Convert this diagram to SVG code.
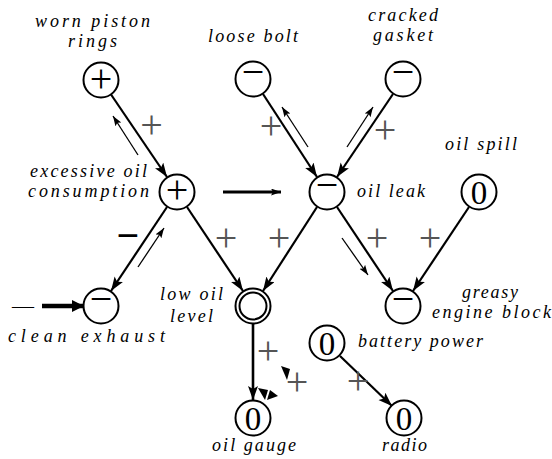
<svg xmlns="http://www.w3.org/2000/svg" width="552" height="459" viewBox="0 0 552 459" font-family="Liberation Serif, Times New Roman, DejaVu Serif, serif">
<style>
.lbl{font-style:italic;font-size:18px;fill:#000}
.nc{fill:#fff;stroke:#000;stroke-width:2}
.sym{font-size:40px;fill:#000;text-anchor:middle}
.zero{font-size:33px;fill:#000;text-anchor:middle}
.el{font-size:40px;fill:#555;text-anchor:middle}
.thick{stroke:#000;stroke-width:2.2;fill:none}
.thin{stroke:#000;stroke-width:1.3;fill:none}
</style>
<defs>
<marker id="ah" markerUnits="userSpaceOnUse" markerWidth="16" markerHeight="12" refX="14" refY="5" orient="auto">
<path d="M0,0 L14,5 L0,10 L3,5 Z" fill="#000"/>
</marker>
<marker id="ahs" markerUnits="userSpaceOnUse" markerWidth="12" markerHeight="8" refX="10" refY="3.5" orient="auto">
<path d="M0,0 L10,3.5 L0,7 L2,3.5 Z" fill="#000"/>
</marker>
<marker id="ahb" markerUnits="userSpaceOnUse" markerWidth="14" markerHeight="14" refX="12" refY="6" orient="auto">
<path d="M0,0 L12,6 L0,12 Z" fill="#000"/>
</marker>
</defs>
<g id="connectors">
<line class="thick" x1="110" y1="93" x2="167" y2="177" marker-end="url(#ah)"/>
<line class="thin" x1="138" y1="155" x2="113" y2="116" marker-end="url(#ahs)"/>
<line class="thick" x1="263" y1="94" x2="317" y2="177" marker-end="url(#ah)"/>
<line class="thin" x1="308" y1="147" x2="282" y2="107" marker-end="url(#ahs)"/>
<line class="thick" x1="393" y1="94" x2="337" y2="177" marker-end="url(#ah)"/>
<line class="thin" x1="347" y1="147" x2="373" y2="107" marker-end="url(#ahs)"/>
<line class="thick" x1="167" y1="207" x2="111" y2="291" marker-end="url(#ah)"/>
<line class="thin" x1="138" y1="267" x2="164" y2="228" marker-end="url(#ahs)"/>
<line class="thick" x1="187" y1="207" x2="243" y2="291" marker-end="url(#ah)"/>
<line class="thick" x1="317" y1="207" x2="263" y2="291" marker-end="url(#ah)"/>
<line class="thick" x1="337" y1="207" x2="393" y2="291" marker-end="url(#ah)"/>
<line class="thin" x1="342" y1="238" x2="368" y2="275" marker-end="url(#ahs)"/>
<line class="thick" x1="469" y1="207" x2="413" y2="291" marker-end="url(#ah)"/>
<line x1="223" y1="192" x2="281" y2="192" stroke="#000" stroke-width="3" marker-end="url(#ahs)"/>
<line x1="42" y1="306" x2="84" y2="306" stroke="#000" stroke-width="4.5" marker-end="url(#ahb)"/>
<line x1="253" y1="324" x2="253" y2="400" stroke="#000" stroke-width="2.6" marker-end="url(#ah)"/>
<line class="thick" x1="340" y1="356" x2="392" y2="406" marker-end="url(#ah)"/>
<polygon points="258,388 268,390 265,400" fill="#000"/>
<polygon points="270,390 278,396 267,400" fill="#000"/>
<polygon points="281,366 290,369 287,380" fill="#000"/>
<text class="el" x="151.5" y="138">+</text>
<text class="el" x="271" y="139">+</text>
<text class="el" x="385" y="142.5">+</text>
<text class="el" x="226" y="250.5">+</text>
<text class="el" x="279" y="250.5">+</text>
<text class="el" x="377" y="250.5">+</text>
<text class="el" x="430" y="250.5">+</text>
<text class="el" x="268" y="363.5">+</text>
<text class="el" x="297" y="394.5">+</text>
<text class="el" x="358" y="393.5">+</text>
<text x="128" y="249" font-size="40" font-weight="bold" text-anchor="middle" fill="#000">−</text>
<text x="23" y="313" font-size="22" text-anchor="middle" fill="#000">—</text>
</g>
<g id="worn-piston-rings">
<circle class="nc" cx="101" cy="80" r="17.5"/>
<text class="sym" x="101" y="91.5">+</text>
<text class="lbl" x="35" y="27" textLength="115" lengthAdjust="spacing">worn piston</text>
<text class="lbl" x="68" y="47" textLength="49" lengthAdjust="spacing">rings</text>
</g>
<g id="loose-bolt">
<circle class="nc" cx="253" cy="79" r="17.5"/>
<text class="sym" x="253" y="85">−</text>
<text class="lbl" x="208" y="42" textLength="90" lengthAdjust="spacing">loose bolt</text>
</g>
<g id="cracked-gasket">
<circle class="nc" cx="403" cy="79" r="17.5"/>
<text class="sym" x="403" y="85">−</text>
<text class="lbl" x="368" y="21" textLength="70" lengthAdjust="spacing">cracked</text>
<text class="lbl" x="373" y="41" textLength="60" lengthAdjust="spacing">gasket</text>
</g>
<g id="excessive-oil-consumption">
<circle class="nc" cx="177" cy="192" r="17.5"/>
<text class="sym" x="177" y="203">+</text>
<text class="lbl" x="30" y="177" textLength="117" lengthAdjust="spacing">excessive oil</text>
<text class="lbl" x="28" y="197" textLength="121" lengthAdjust="spacing">consumption</text>
</g>
<g id="oil-leak">
<circle class="nc" cx="327" cy="192" r="17.5"/>
<text class="sym" x="327" y="198">−</text>
<text class="lbl" x="357" y="197" textLength="68" lengthAdjust="spacing">oil leak</text>
</g>
<g id="oil-spill">
<circle class="nc" cx="479" cy="192" r="17.5"/>
<text class="zero" x="479" y="203.5">0</text>
<text class="lbl" x="445" y="150" textLength="72" lengthAdjust="spacing">oil spill</text>
</g>
<g id="clean-exhaust">
<circle class="nc" cx="101" cy="306" r="17.5"/>
<text class="sym" x="101" y="312">−</text>
<text class="lbl" x="8" y="342" textLength="157" lengthAdjust="spacing">clean exhaust</text>
</g>
<g id="low-oil-level">
<circle class="nc" cx="253" cy="306" r="17.5"/>
<circle class="nc" cx="253" cy="306" r="13.5"/>
<text class="lbl" x="160" y="300" textLength="63" lengthAdjust="spacing">low oil</text>
<text class="lbl" x="170" y="322" textLength="43" lengthAdjust="spacing">level</text>
</g>
<g id="greasy-engine-block">
<circle class="nc" cx="403" cy="306" r="17.5"/>
<text class="sym" x="403" y="312">−</text>
<text class="lbl" x="462" y="298" textLength="56" lengthAdjust="spacing">greasy</text>
<text class="lbl" x="432" y="318" textLength="119" lengthAdjust="spacing">engine block</text>
</g>
<g id="battery-power">
<circle class="nc" cx="327" cy="343" r="17.5"/>
<text class="zero" x="327" y="354.5">0</text>
<text class="lbl" x="358" y="347" textLength="125" lengthAdjust="spacing">battery power</text>
</g>
<g id="oil-gauge">
<circle class="nc" cx="253" cy="418" r="17.5"/>
<text class="zero" x="253" y="429.5">0</text>
<text class="lbl" x="212" y="451" textLength="84" lengthAdjust="spacing">oil gauge</text>
</g>
<g id="radio">
<circle class="nc" cx="404" cy="418" r="17.5"/>
<text class="zero" x="404" y="429.5">0</text>
<text class="lbl" x="382" y="451" textLength="45" lengthAdjust="spacing">radio</text>
</g>
</svg>
